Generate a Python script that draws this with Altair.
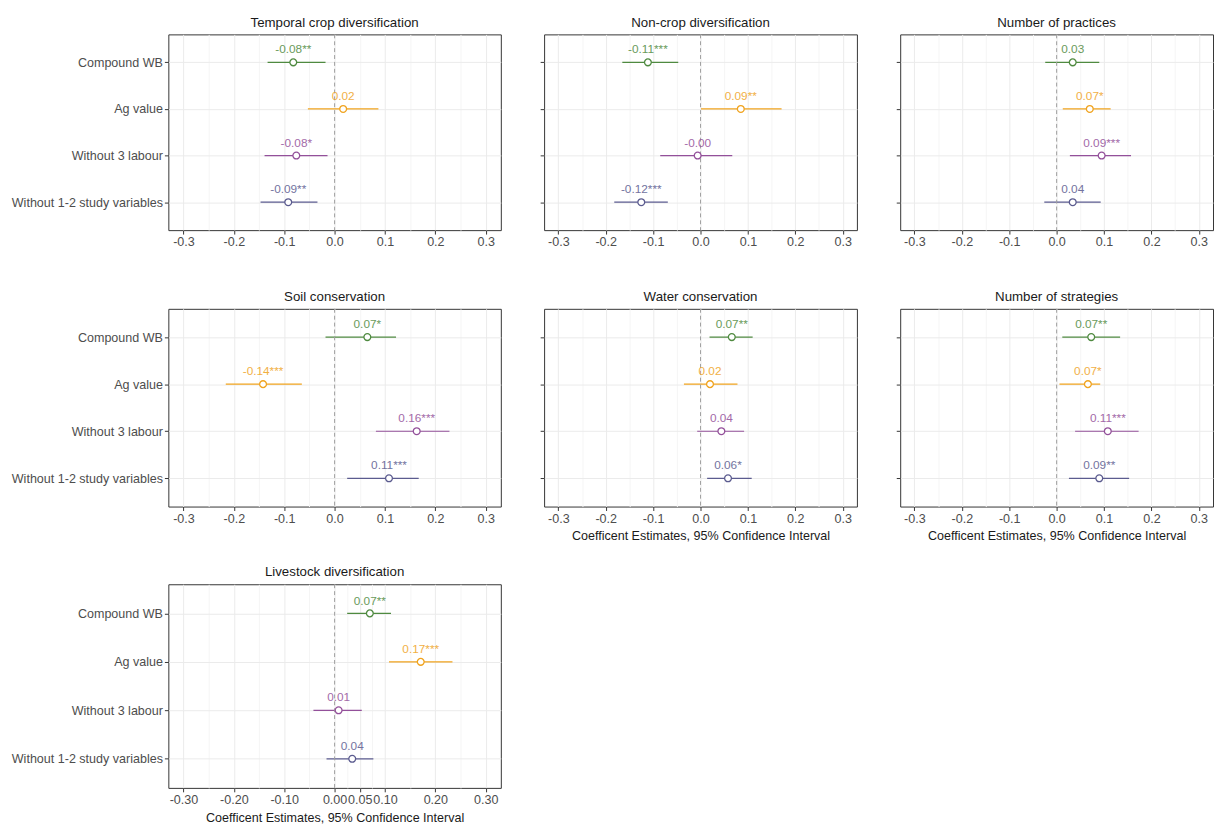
import altair as alt
import pandas as pd

categories = ["Compound WB", "Ag value", "Without 3 labour", "Without 1-2 study variables"]
colors = ["#4f8a40", "#f0a31e", "#93509a", "#5b5b8f"]

titles = ["Temporal crop diversification", "Non-crop diversification", "Number of practices",
          "Soil conservation", "Water conservation", "Number of strategies",
          "Livestock diversification"]

temporal_est = [-0.082, 0.017, -0.076, -0.092]
temporal_lo = [-0.133, -0.053, -0.139, -0.147]
temporal_hi = [-0.018, 0.087, -0.014, -0.034]
temporal_lab = ["-0.08**", "0.02", "-0.08*", "-0.09**"]

noncrop_est = [-0.111, 0.085, -0.006, -0.125]
noncrop_lo = [-0.165, 0.001, -0.085, -0.182]
noncrop_hi = [-0.047, 0.171, 0.067, -0.069]
noncrop_lab = ["-0.11***", "0.09**", "-0.00", "-0.12***"]

practices_est = [0.034, 0.070, 0.095, 0.034]
practices_lo = [-0.024, 0.013, 0.028, -0.026]
practices_hi = [0.090, 0.114, 0.157, 0.093]
practices_lab = ["0.03", "0.07*", "0.09***", "0.04"]

soil_est = [0.065, -0.142, 0.163, 0.108]
soil_lo = [-0.018, -0.216, 0.082, 0.025]
soil_hi = [0.122, -0.065, 0.228, 0.167]
soil_lab = ["0.07*", "-0.14***", "0.16***", "0.11***"]

water_est = [0.066, 0.020, 0.044, 0.058]
water_lo = [0.019, -0.035, -0.007, 0.014]
water_hi = [0.110, 0.078, 0.092, 0.108]
water_lab = ["0.07**", "0.02", "0.04", "0.06*"]

strategies_est = [0.073, 0.066, 0.108, 0.090]
strategies_lo = [0.012, 0.006, 0.039, 0.026]
strategies_hi = [0.134, 0.092, 0.173, 0.153]
strategies_lab = ["0.07**", "0.07*", "0.11***", "0.09**"]

livestock_est = [0.070, 0.171, 0.008, 0.035]
livestock_lo = [0.025, 0.108, -0.042, -0.016]
livestock_hi = [0.112, 0.234, 0.054, 0.077]
livestock_lab = ["0.07**", "0.17***", "0.01", "0.04"]

major_ticks = [-0.3, -0.2, -0.1, 0.0, 0.1, 0.2, 0.3]
minor_grid = [-0.25, -0.15, -0.05, 0.05, 0.15, 0.25]
livestock_ticks = [-0.3, -0.2, -0.1, 0.0, 0.05, 0.1, 0.2, 0.3]
livestock_minor = [-0.25, -0.15, -0.05, 0.025, 0.075, 0.15, 0.25]
zero_line = [0.0]
x_domain = [-0.33, 0.33]
x_title = "Coefficent Estimates, 95% Confidence Interval"

FONT = "Liberation Sans"
color_scale = alt.Scale(domain=categories, range=colors)


def panel(title, est, lo, hi, lab, width, height, show_ylabels, show_xtitle,
          ticks=major_ticks, minor=minor_grid, fmt=".1f"):
    df = pd.DataFrame({"model": categories, "est": est, "lo": lo, "hi": hi, "lab": lab})
    xs = alt.Scale(domain=x_domain, nice=False, zero=False)
    all_vals = sorted(ticks + minor)
    test = " || ".join("abs(datum.value - (%r)) < 0.0001" % float(t) for t in ticks)
    axis_kw = dict(values=all_vals,
                   labelExpr="(%s) ? replace(format(datum.value, '%s'), '\u2212', '-') : ''" % (test, fmt),
                   grid=True,
                   gridColor={"condition": {"test": test, "value": "#ebebeb"}, "value": "#f5f5f5"},
                   gridWidth=1, domain=False, tickSize=4,
                   tickColor={"condition": {"test": test, "value": "#333333"}, "value": "transparent"},
                   labelColor="#4d4d4d",
                   labelFontSize=12.75, labelFont=FONT, labelPadding=2,
                   titleFont=FONT, titleFontSize=12.75, titleFontWeight="normal",
                   titleColor="#1a1a1a", titlePadding=5, labelFlush=False, orient="bottom")
    if show_xtitle:
        xaxis = alt.Axis(title=x_title, **axis_kw)
    else:
        xaxis = alt.Axis(title=None, **axis_kw)
    yaxis = alt.Axis(title=None, labels=show_ylabels, grid=True, gridColor="#ebebeb",
                     domain=False, tickSize=4, tickColor="#333333", labelColor="#4d4d4d",
                     labelFontSize=12.75, labelFont=FONT, labelPadding=2, orient="left")
    y = alt.Y("model:N", sort=categories, scale=alt.Scale(type="point", padding=0.6), axis=yaxis)

    base = alt.Chart(df)
    zero = alt.Chart(pd.DataFrame({"z": zero_line})).mark_rule(
        color="#a0a0a0", strokeDash=[4, 3], strokeWidth=1).encode(
        x=alt.X("z:Q", scale=xs, axis=xaxis))
    ci = base.mark_rule(strokeWidth=1.2).encode(
        x=alt.X("lo:Q", scale=xs, axis=xaxis), x2="hi:Q", y=y,
        color=alt.Color("model:N", scale=color_scale, legend=None))
    pts = base.mark_circle(fill="white", strokeWidth=1.3, size=48, opacity=1).encode(
        x=alt.X("est:Q", scale=xs, axis=xaxis), y=y,
        stroke=alt.Stroke("model:N", scale=color_scale, legend=None))
    txt = base.mark_text(baseline="bottom", dy=-6, fontSize=12, font=FONT, opacity=0.85).encode(
        x=alt.X("est:Q", scale=xs, axis=xaxis), y=y, text="lab:N",
        color=alt.Color("model:N", scale=color_scale, legend=None))
    return alt.layer(ci, zero, pts, txt).properties(
        width=width, height=height,
        title=alt.TitleParams(title, fontSize=13.5, font=FONT, fontWeight="normal",
                              color="#1a1a1a", offset=5))


p1 = panel(titles[0], temporal_est, temporal_lo, temporal_hi, temporal_lab, 338, 199, True, False)
p2 = panel(titles[1], noncrop_est, noncrop_lo, noncrop_hi, noncrop_lab, 318, 199, False, False)
p3 = panel(titles[2], practices_est, practices_lo, practices_hi, practices_lab, 318, 199, False, False)
p4 = panel(titles[3], soil_est, soil_lo, soil_hi, soil_lab, 338, 201, True, False)
p5 = panel(titles[4], water_est, water_lo, water_hi, water_lab, 318, 201, False, True)
p6 = panel(titles[5], strategies_est, strategies_lo, strategies_hi, strategies_lab, 318, 201, False, True)
p7 = panel(titles[6], livestock_est, livestock_lo, livestock_hi, livestock_lab, 338, 207, True, True,
           ticks=livestock_ticks, minor=livestock_minor, fmt=".2f")

row1 = alt.hconcat(p1, p2, p3, spacing=38)
row2 = alt.hconcat(p4, p5, p6, spacing=38)
top = alt.vconcat(row1, row2, spacing=40)
chart = alt.vconcat(top, p7, spacing=22).properties(
    padding={"left": 2, "top": 0, "right": 0, "bottom": 0},
    background="white"
).configure_view(stroke="#333333", strokeWidth=1)

chart.save("out.html", embed_options={"renderer": "svg", "actions": False})
